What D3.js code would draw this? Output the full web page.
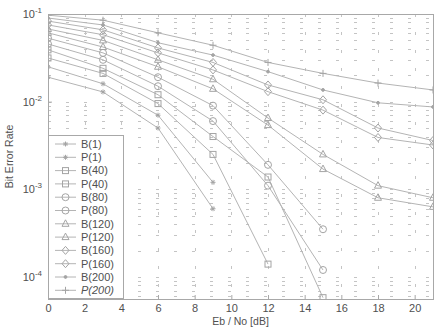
<!DOCTYPE html>
<html>
<head>
<meta charset="utf-8">
<script src="https://cdn.jsdelivr.net/npm/d3@7"></script>
<style>
  html, body { margin: 0; padding: 0; background: #fff; }
  svg { display: block; font-family: "Liberation Sans", Arial, sans-serif; }
</style>
</head>
<body>
<div id="chart"></div>
<script>
// Eb/No sample points (dB)
const ebNo = [0, 3, 6, 9, 12, 15, 18, 21];

// bit error rate per curve (curves stop where no errors were counted)
const berB1 = [0.019, 0.0129, 0.0050, 0.00060];
const berP1 = [0.025, 0.016, 0.0070, 0.0012];
const berB40 = [0.0315, 0.021, 0.0095, 0.0025, 0.00014];
const berP40 = [0.039, 0.024, 0.012, 0.0040, 0.00138, 0.000058];
const berB80 = [0.0455, 0.030, 0.015, 0.0060, 0.0011, 0.00012];
const berP80 = [0.053, 0.036, 0.019, 0.0090, 0.0019, 0.00035];
const berB120 = [0.061, 0.042, 0.025, 0.014, 0.0054, 0.0017, 0.00080, 0.00063];
const berP120 = [0.0675, 0.050, 0.030, 0.018, 0.0065, 0.0025, 0.0011, 0.00080];
const berB160 = [0.075, 0.058, 0.036, 0.023, 0.0130, 0.0080, 0.0039, 0.0032];
const berP160 = [0.083, 0.066, 0.041, 0.028, 0.0155, 0.0105, 0.0050, 0.0036];
const berB200 = [0.090, 0.075, 0.047, 0.034, 0.022, 0.0136, 0.0097, 0.0087];
const berP200 = [0.097, 0.085, 0.061, 0.044, 0.028, 0.021, 0.0163, 0.0136];

const seriesNames = ['B(1)', 'P(1)', 'B(40)', 'P(40)', 'B(80)', 'P(80)',
  'B(120)', 'P(120)', 'B(160)', 'P(160)', 'B(200)', 'P(200)'];
const seriesValues = [berB1, berP1, berB40, berP40, berB80, berP80,
  berB120, berP120, berB160, berP160, berB200, berP200];

const xTicks = [0, 2, 4, 6, 8, 10, 12, 14, 16, 18, 20];
const yTickExps = [-1, -2, -3, -4];

const W = 440, H = 327;
const M = { top: 14, right: 7, bottom: 28, left: 48 };
const LINE = '#b4b4b4';
const MARK = '#a4a4a4';
const AXIS = '#a8a8a8';
const TEXT = '#505050';

// marker kind per series, in legend order
const markerKinds = ['star', 'star', 'square', 'square', 'circle', 'circle',
  'triangle', 'triangle', 'diamond', 'diamond', 'dot', 'plus'];

const svg = d3.select('#chart').append('svg')
  .attr('width', W).attr('height', H);

const x = d3.scaleLinear().domain([0, 21]).range([M.left, W - M.right]);
const y = d3.scaleLog().domain([5.6e-5, 0.1]).range([H - M.bottom, M.top]);

// grid
const grid = svg.append('g').attr('stroke', '#c4c4c4').attr('stroke-width', 1)
  .attr('stroke-dasharray', '3,15');
xTicks.filter((t) => t > 0).forEach((t) => {
  grid.append('line')
    .attr('x1', Math.round(x(t)) + 0.5).attr('x2', Math.round(x(t)) + 0.5)
    .attr('y1', M.top).attr('y2', H - M.bottom);
});
const minorVals = [];
for (let e = -5; e <= -2; e++) {
  for (let k = 1; k <= 9; k++) {
    const v = k * Math.pow(10, e);
    if (v > 5.6e-5 && v < 0.1) minorVals.push(v);
  }
}
minorVals.forEach((v) => {
  grid.append('line')
    .attr('x1', M.left).attr('x2', W - M.right)
    .attr('y1', Math.round(y(v)) + 0.5).attr('y2', Math.round(y(v)) + 0.5);
});

// axes
const xAxis = svg.append('g')
  .attr('transform', `translate(0,${H - M.bottom})`)
  .call(d3.axisBottom(x).tickValues(xTicks).tickSize(-4).tickPadding(5));
const yAxis = svg.append('g')
  .attr('transform', `translate(${M.left},0)`)
  .call(d3.axisLeft(y).tickValues(yTickExps.map((e) => Math.pow(10, e))).tickSize(-4).tickFormat(''));
[xAxis, yAxis].forEach((a) => {
  a.select('.domain').attr('stroke', AXIS);
  a.selectAll('.tick line').attr('stroke', AXIS);
  a.selectAll('text').attr('fill', TEXT).attr('font-size', 11)
    .attr('font-family', '"Liberation Sans", Arial, sans-serif');
});

yAxis.selectAll('.tick').each(function (d) {
  const t = d3.select(this).append('text')
    .attr('x', -6).attr('dy', '0.32em')
    .attr('text-anchor', 'end')
    .attr('fill', TEXT).attr('font-size', 11);
  t.append('tspan').text('10');
  t.append('tspan').attr('dy', -5).attr('font-size', 8).text(Math.round(Math.log10(d)));
});

// box top and right
svg.append('rect')
  .attr('x', M.left + 0.5).attr('y', M.top + 0.5)
  .attr('width', W - M.left - M.right).attr('height', H - M.top - M.bottom)
  .attr('fill', 'none').attr('stroke', AXIS);

// markers
function drawMarker(g, kind, cx, cy) {
  const s = g.append('g').attr('transform', `translate(${cx},${cy})`)
    .attr('stroke', MARK).attr('fill', 'none').attr('stroke-width', 1);
  if (kind === 'square') s.append('rect').attr('x', -3).attr('y', -3).attr('width', 6).attr('height', 6);
  else if (kind === 'circle') s.append('circle').attr('r', 3.5);
  else if (kind === 'triangle') s.append('path').attr('d', 'M0,-4L3.5,2.5L-3.5,2.5Z');
  else if (kind === 'diamond') s.append('path').attr('d', 'M0,-4L3.5,0L0,4L-3.5,0Z');
  else if (kind === 'dot') s.append('circle').attr('r', 1.4).attr('fill', MARK);
  else if (kind === 'plus') s.append('path').attr('d', 'M-3.5,0H3.5M0,-3.5V3.5');
  else if (kind === 'star') s.append('path').attr('d', 'M-2.5,0H2.5M0,-2.5V2.5M-1.8,-1.8L1.8,1.8M-1.8,1.8L1.8,-1.8');
}

svg.append('clipPath').attr('id', 'plot').append('rect')
  .attr('x', M.left).attr('y', M.top)
  .attr('width', W - M.left - M.right).attr('height', H - M.top - M.bottom);

const plot = svg.append('g').attr('clip-path', 'url(#plot)');
const line = d3.line().x((d) => x(d[0])).y((d) => y(d[1]));

seriesValues.forEach((vals, i) => {
  const pts = vals.map((v, j) => [ebNo[j], v]);
  plot.append('path').datum(pts)
    .attr('fill', 'none').attr('stroke', LINE).attr('stroke-width', 1)
    .attr('d', line);
  pts.forEach((p) => drawMarker(plot, markerKinds[i], x(p[0]), y(p[1])));
});

// legend
const lg = svg.append('g');
lg.append('rect')
  .attr('x', M.left + 0.5).attr('y', 135.5).attr('width', 75).attr('height', 163)
  .attr('fill', '#fff').attr('stroke', AXIS);
seriesNames.forEach((name, i) => {
  const ry = 144 + i * 13.3;
  lg.append('line').attr('x1', 55).attr('x2', 76).attr('y1', ry).attr('y2', ry)
    .attr('stroke', LINE);
  drawMarker(lg, markerKinds[i], 65.5, ry);
  lg.append('text').attr('x', 81).attr('y', ry).attr('dy', '0.35em')
    .attr('font-size', 11).attr('fill', TEXT)
    .attr('font-style', name === 'P(200)' ? 'italic' : null)
    .text(name);
});

// axis labels
svg.append('text')
  .attr('x', (M.left + W - M.right) / 2).attr('y', 325)
  .attr('text-anchor', 'middle').attr('font-size', 10.5).attr('fill', TEXT)
  .text('Eb / No [dB]');
svg.append('text')
  .attr('transform', `translate(13,${(M.top + H - M.bottom) / 2}) rotate(-90)`)
  .attr('text-anchor', 'middle').attr('font-size', 10.5).attr('fill', TEXT)
  .text('Bit Error Rate');
</script>
</body>
</html>
